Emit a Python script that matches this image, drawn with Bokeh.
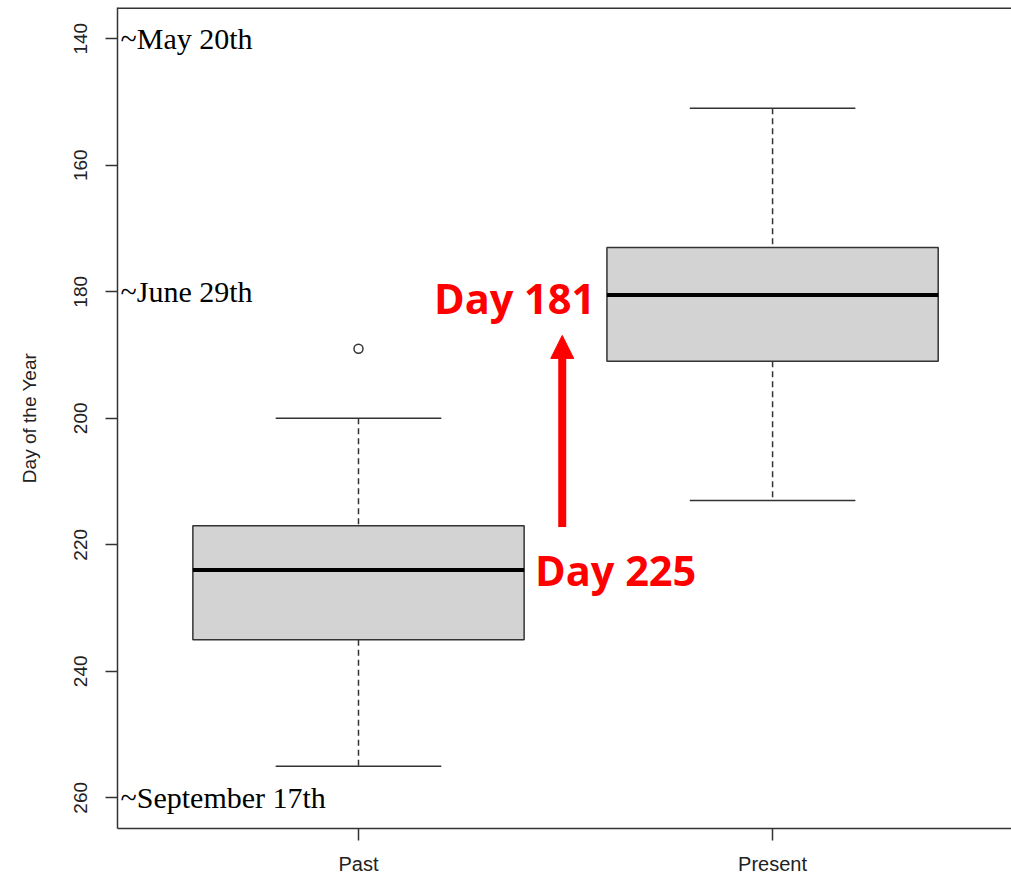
from bokeh.plotting import figure
from bokeh.models import Range1d, FixedTicker, Span, Arrow, NormalHead, ColumnDataSource
from bokeh.core.properties import value
from bokeh.embed import file_html
from bokeh.resources import INLINE

# ---- data ----
groups = ["Past", "Present"]
whisker_min = [200, 151]
q1 = [217, 173]
median = [224, 180.5]
q3 = [235, 191]
whisker_max = [255, 213]
outlier_group = ["Past"]
outlier_day = [189]

y_ticks = [140, 160, 180, 200, 220, 240, 260]
date_labels = ["~May 20th", "~June 29th", "~September 17th"]
date_days = [140, 180, 260]

note_labels = ["Day 225", "Day 181"]
note_days = [224, 181]
note_pos = [1.621, 1.377]
arrow_pos = 1.492
arrow_from_day = 217.2
arrow_to_day = 186.9

# ---- positions ----
xs = [i + 1 for i in range(len(groups))]
gx = {g: x for g, x in zip(groups, xs)}
box_w = 0.8
cap_w = 0.4

p = figure(width=1011, height=877, output_backend="svg", toolbar_location=None,
           x_range=Range1d(0.418, 2.577), y_range=Range1d(264.85, 135.06),
           min_border_left=117, min_border_right=0, min_border_top=7, min_border_bottom=48)
p.background_fill_color = "white"
p.border_fill_color = "white"
p.outline_line_color = None
p.xgrid.visible = False
p.ygrid.visible = False

axis_col = "#333333"
# left axis
ya = p.yaxis[0]
ya.ticker = FixedTicker(ticks=y_ticks)
ya.axis_line_color = axis_col
ya.axis_line_width = 1.5
ya.major_tick_line_color = axis_col
ya.major_tick_line_width = 1.5
ya.major_tick_out = 12
ya.major_tick_in = 0
ya.minor_tick_line_color = None
ya.major_label_orientation = "vertical"
ya.major_label_standoff = 18
ya.major_label_text_font = "Liberation Sans"
ya.major_label_text_font_size = "19px"
ya.major_label_text_color = "#222222"
ya.axis_label = "Day of the Year"
ya.axis_label_text_font = "Liberation Sans"
ya.axis_label_text_font_size = "19px"
ya.axis_label_text_font_style = "normal"
ya.axis_label_text_color = "#222222"
ya.axis_label_standoff = 32

# bottom axis
xa = p.xaxis[0]
xa.ticker = FixedTicker(ticks=xs)
xa.major_label_overrides = {x: g for x, g in zip(xs, groups)}
xa.axis_line_color = axis_col
xa.axis_line_width = 1.5
xa.major_tick_line_color = axis_col
xa.major_tick_line_width = 1.5
xa.major_tick_out = 12
xa.major_tick_in = 0
xa.minor_tick_line_color = None
xa.major_label_standoff = 12
xa.major_label_text_font = "Liberation Sans"
xa.major_label_text_font_size = "20px"
xa.major_label_text_color = "#222222"

# top border of the plotting frame
p.add_layout(Span(location=p.y_range.end, dimension="width", line_color=axis_col, line_width=3))

src = ColumnDataSource(dict(x=xs, lo=whisker_min, q1=q1, med=median, q3=q3, hi=whisker_max,
                            bl=[x - box_w / 2 for x in xs], br=[x + box_w / 2 for x in xs],
                            cl=[x - cap_w / 2 for x in xs], cr=[x + cap_w / 2 for x in xs]))

# whiskers (dashed)
p.segment(x0="x", y0="lo", x1="x", y1="q1", source=src, line_color=axis_col, line_width=1.5, line_dash="6 4")
p.segment(x0="x", y0="q3", x1="x", y1="hi", source=src, line_color=axis_col, line_width=1.5, line_dash="6 4")
# caps
p.segment(x0="cl", y0="lo", x1="cr", y1="lo", source=src, line_color=axis_col, line_width=1.5)
p.segment(x0="cl", y0="hi", x1="cr", y1="hi", source=src, line_color=axis_col, line_width=1.5)
# boxes
p.quad(left="bl", right="br", top="q1", bottom="q3", source=src, fill_color="#d3d3d3",
       line_color=axis_col, line_width=1.5)
# medians
p.segment(x0="bl", y0="med", x1="br", y1="med", source=src, line_color="black", line_width=4)
# outliers
p.scatter(x=[gx[g] for g in outlier_group], y=outlier_day, marker="circle", size=9,
          fill_color=None, line_color=axis_col, line_width=1.5)

# date labels
p.text(x=[p.x_range.start] * len(date_labels), y=date_days, text=date_labels, x_offset=3,
       text_font=value("Liberation Serif"), text_font_size="30px", text_color="black",
       text_baseline="middle", text_align="left")

# red annotations
p.text(x=note_pos, y=note_days, text=note_labels, text_font=value("Open Sans"),
       text_font_style="bold", text_font_size="41.5px", text_color="#ff0000",
       text_baseline="middle", text_align="center")
p.add_layout(Arrow(end=NormalHead(size=23, fill_color="#ff0000", line_color="#ff0000"),
                   x_start=arrow_pos, y_start=arrow_from_day, x_end=arrow_pos, y_end=arrow_to_day,
                   line_color="#ff0000", line_width=8))

open("out.html", "w").write(file_html(p, INLINE))
